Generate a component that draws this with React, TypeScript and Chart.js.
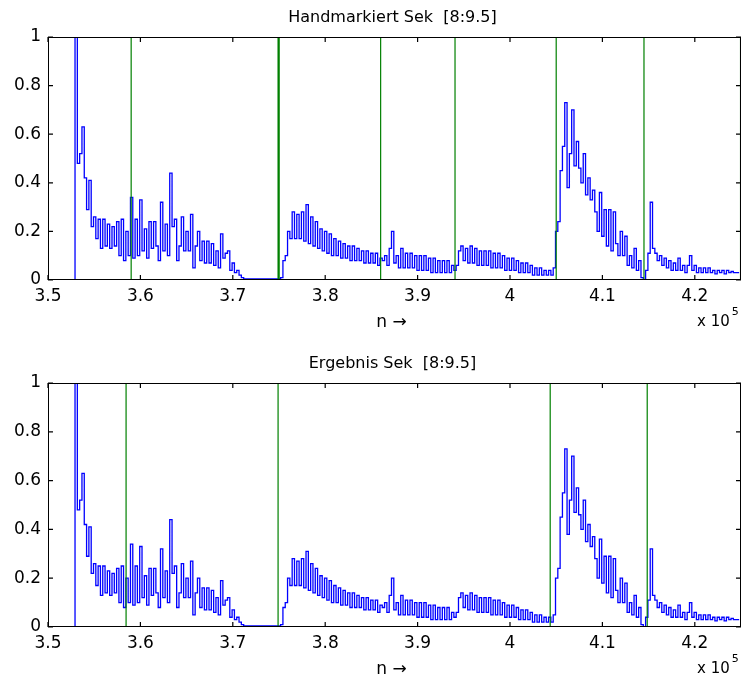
import React, { useEffect, useRef } from 'react';
import { Chart, registerables } from 'chart.js';

Chart.register(...registerables);

// Signal: normalised envelope, sampled every 250 samples starting at n = 352800
const sampleStart = 352800;
const sampleStep = 250;
const envelope: number[] = [
  0, 1.0, 0.48, 0.52, 0.63, 0.42, 0.29, 0.41, 0.22, 0.26,
  0.17, 0.25, 0.13, 0.25, 0.14, 0.23, 0.13, 0.22, 0.14, 0.24,
  0.10, 0.25, 0.08, 0.20, 0.10, 0.34, 0.09, 0.25, 0.10, 0.33,
  0.12, 0.21, 0.09, 0.24, 0.13, 0.24, 0.14, 0.08, 0.32, 0.12,
  0.23, 0.10, 0.44, 0.22, 0.25, 0.08, 0.14, 0.26, 0.12, 0.20,
  0.12, 0.27, 0.05, 0.14, 0.20, 0.08, 0.16, 0.07, 0.16, 0.07,
  0.15, 0.06, 0.12, 0.05, 0.19, 0.09, 0.11, 0.12, 0.04, 0.07,
  0.03, 0.04, 0.02, 0.01, 0.005, 0.005, 0.005, 0.005, 0.005, 0.005,
  0.005, 0.005, 0.005, 0.005, 0.005, 0.005, 0.005, 0.005, 0.005, 0.005,
  0.01, 0.08, 0.10, 0.20, 0.17, 0.28, 0.17, 0.27, 0.17, 0.28,
  0.16, 0.31, 0.15, 0.26, 0.14, 0.24, 0.13, 0.21, 0.12, 0.20,
  0.11, 0.19, 0.10, 0.17, 0.10, 0.16, 0.09, 0.15, 0.09, 0.14,
  0.08, 0.14, 0.08, 0.13, 0.08, 0.12, 0.07, 0.12, 0.07, 0.11,
  0.07, 0.11, 0.06, 0.09, 0.08, 0.10, 0.06, 0.13, 0.20, 0.07,
  0.10, 0.05, 0.13, 0.05, 0.11, 0.05, 0.11, 0.05, 0.10, 0.04,
  0.10, 0.04, 0.10, 0.04, 0.09, 0.03, 0.09, 0.03, 0.08, 0.03,
  0.08, 0.03, 0.08, 0.03, 0.06, 0.04, 0.06, 0.12, 0.14, 0.08,
  0.13, 0.07, 0.14, 0.07, 0.13, 0.06, 0.12, 0.06, 0.12, 0.06,
  0.12, 0.05, 0.11, 0.05, 0.11, 0.05, 0.10, 0.04, 0.09, 0.04,
  0.09, 0.04, 0.08, 0.03, 0.07, 0.03, 0.07, 0.03, 0.06, 0.02,
  0.05, 0.02, 0.05, 0.02, 0.04, 0.02, 0.04, 0.02, 0.05, 0.20,
  0.24, 0.45, 0.55, 0.73, 0.38, 0.52, 0.70, 0.47, 0.57, 0.46,
  0.40, 0.52, 0.35, 0.42, 0.33, 0.37, 0.28, 0.20, 0.36, 0.18,
  0.29, 0.14, 0.29, 0.12, 0.28, 0.15, 0.10, 0.20, 0.10, 0.18,
  0.06, 0.10, 0.05, 0.13, 0.04, 0.08, 0.01, 0.00, 0.04, 0.11,
  0.32, 0.13, 0.11, 0.08, 0.10, 0.06, 0.09, 0.05, 0.08, 0.04,
  0.07, 0.04, 0.09, 0.04, 0.06, 0.03, 0.06, 0.10, 0.04, 0.06,
  0.03, 0.05, 0.03, 0.05, 0.03, 0.05, 0.03, 0.04, 0.025, 0.04,
  0.03, 0.04, 0.025, 0.04, 0.03, 0.035, 0.03, 0.03, 0.03,
];

// Segment boundaries (green vertical lines), sample index n
const handMarkers: number[] = [359000, 374900, 375020, 386000, 394050, 405000, 414500, 424950];
const resultMarkers: number[] = [358450, 374900, 404350, 414850];

const xTickValues: number[] = [350000, 360000, 370000, 380000, 390000, 400000, 410000, 420000];
const yTickValues: number[] = [0, 0.2, 0.4, 0.6, 0.8, 1];
const xMin = 350000;
const xMax = 425000;
const yMin = 0;
const yMax = 1;
// inward tick-mark lengths, in axis units (about 5 px)
const xTickLen = 540;
const yTickLen = 0.021;

const topTitle = 'Handmarkiert Sek  [8:9.5]';
const bottomTitle = 'Ergebnis Sek  [8:9.5]';
const xLabel = 'n \u2192';
const scaleLabel = 'x 10';
const scaleExp = '5';

const FONT = 'DejaVu Sans';
const BLUE = '#0000ff';
const GREEN = '#008000';
const FRAME = '#000000';

const PLOT_LEFT = 48;
const PLOT_RIGHT_PAD = 4;

function fmtX(v: number): string {
  return String(parseFloat((v / 100000).toFixed(2)));
}

function makePlugin(title: string) {
  return {
    id: 'matlabText' + title.length,
    afterDraw(chart: any) {
      const ctx = chart.ctx;
      const a = chart.chartArea;
      const cx = (a.left + a.right) / 2;
      ctx.save();
      ctx.fillStyle = '#000';
      ctx.textBaseline = 'middle';
      ctx.textAlign = 'center';
      ctx.font = `16px "${FONT}"`;
      ctx.fillText(title, cx - 2, a.top - 19);
      ctx.font = `17px "${FONT}"`;
      ctx.fillText(xLabel, cx - 3, a.bottom + 43);
      ctx.textAlign = 'left';
      ctx.font = `15px "${FONT}"`;
      const sx = a.right - 44;
      ctx.fillText(scaleLabel, sx, a.bottom + 42);
      const w = ctx.measureText(scaleLabel).width;
      ctx.font = `11px "${FONT}"`;
      ctx.fillText(scaleExp, sx + w + 2, a.bottom + 32);
      ctx.restore();
    },
  };
}

type Pt = { x: number; y: number | null };

function Panel(props: { title: string; markers: number[]; top: number; height: number; padTop: number; xAxisH: number }) {
  const ref = useRef<HTMLCanvasElement>(null);
  useEffect(() => {
    const signal: Pt[] = envelope.map((v, i) => ({ x: sampleStart + i * sampleStep, y: v }));
    const lines: Pt[] = [];
    props.markers.forEach((m) => {
      lines.push({ x: m, y: yMin }, { x: m, y: yMax }, { x: m, y: null });
    });
    const ticks: Pt[] = [];
    xTickValues.forEach((v) => {
      ticks.push({ x: v, y: yMin }, { x: v, y: yMin + yTickLen }, { x: v, y: null });
      ticks.push({ x: v, y: yMax }, { x: v, y: yMax - yTickLen }, { x: v, y: null });
    });
    yTickValues.forEach((v) => {
      ticks.push({ x: xMin, y: v }, { x: xMin + xTickLen, y: v }, { x: xMin, y: null });
      ticks.push({ x: xMax, y: v }, { x: xMax - xTickLen, y: v }, { x: xMax, y: null });
    });
    const chart = new Chart(ref.current as HTMLCanvasElement, {
      type: 'line',
      data: {
        datasets: [
          {
            data: lines as any,
            borderColor: GREEN,
            borderWidth: 1.2,
            pointRadius: 0,
            spanGaps: false,
            tension: 0,
          },
          {
            data: signal as any,
            borderColor: BLUE,
            borderWidth: 1.3,
            pointRadius: 0,
            stepped: 'middle',
            tension: 0,
          },
          {
            data: ticks as any,
            borderColor: FRAME,
            borderWidth: 1.2,
            pointRadius: 0,
            spanGaps: false,
            tension: 0,
            clip: false,
          },
        ],
      },
      options: {
        animation: false,
        responsive: false,
        devicePixelRatio: 1,
        layout: { padding: { top: props.padTop, right: PLOT_RIGHT_PAD, left: 0, bottom: 0 } },
        plugins: { legend: { display: false }, title: { display: false }, tooltip: { enabled: false } },
        events: [],
        scales: {
          x: {
            type: 'linear',
            min: xMin,
            max: xMax,
            afterBuildTicks: (s: any) => {
              s.ticks = xTickValues.map((v) => ({ value: v }));
            },
            afterFit: (s: any) => {
              s.height = props.xAxisH;
            },
            ticks: {
              callback: (v: any) => fmtX(Number(v)),
              font: { family: FONT, size: 17 },
              color: '#000',
              padding: 6,
              maxRotation: 0,
              autoSkip: false,
            },
            grid: { display: false, drawTicks: false },
            border: { display: false },
          },
          y: {
            type: 'linear',
            min: yMin,
            max: yMax,
            afterBuildTicks: (s: any) => {
              s.ticks = yTickValues.map((v) => ({ value: v }));
            },
            afterFit: (s: any) => {
              s.width = PLOT_LEFT;
            },
            ticks: {
              callback: (v: any) => String(v),
              font: { family: FONT, size: 17 },
              color: '#000',
              padding: 7,
            },
            grid: { display: false, drawTicks: false },
            border: { display: false },
          },
        },
      },
      plugins: [makePlugin(props.title)],
    } as any);
    return () => chart.destroy();
  }, []);
  const frameTop = props.padTop;
  const frameH = props.height - props.padTop - props.xAxisH;
  return (
    <div style={{ position: 'absolute', left: 0, top: props.top, width: 745, height: props.height }}>
      <canvas ref={ref} width={745} height={props.height} style={{ width: 745, height: props.height, display: 'block' }} />
      <div
        style={{
          position: 'absolute',
          left: PLOT_LEFT,
          top: frameTop,
          width: 745 - PLOT_LEFT - PLOT_RIGHT_PAD,
          height: frameH,
          border: `1px solid ${FRAME}`,
          boxSizing: 'border-box',
          pointerEvents: 'none',
        }}
      />
    </div>
  );
}

export default function App() {
  return (
    <div style={{ position: 'absolute', left: 0, top: 0, width: 745, height: 687, background: '#fff' }}>
      <Panel title={topTitle} markers={handMarkers} top={0} height={343} padTop={37} xAxisH={63} />
      <Panel title={bottomTitle} markers={resultMarkers} top={343} height={344} padTop={40} xAxisH={60} />
    </div>
  );
}
